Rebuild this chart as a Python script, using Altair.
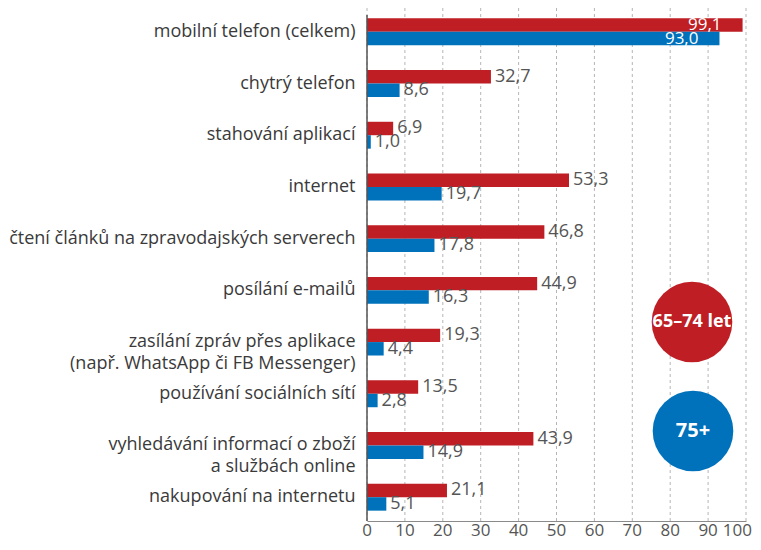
import altair as alt
import pandas as pd

categories = [
    "mobilní telefon (celkem)",
    "chytrý telefon",
    "stahování aplikací",
    "internet",
    "čtení článků na zpravodajských serverech",
    "posílání e-mailů",
    "zasílání zpráv přes aplikace\n(např. WhatsApp či FB Messenger)",
    "používání sociálních sítí",
    "vyhledávání informací o zboží\na službách online",
    "nakupování na internetu",
]
groups = ["65–74 let", "75+"]
values_6574 = [99.1, 32.7, 6.9, 53.3, 46.8, 44.9, 19.3, 13.5, 43.9, 21.1]
values_75 = [93.0, 8.6, 1.0, 19.7, 17.8, 16.3, 4.4, 2.8, 14.9, 5.1]
colors = ["#be1e24", "#0071bb"]
x_ticks = list(range(0, 101, 10))

rows = []
for cat, a, b in zip(categories, values_6574, values_75):
    for g, v in zip(groups, (a, b)):
        rows.append({"cat": cat, "group": g, "value": v,
                     "label": f"{v:.1f}".replace(".", ",")})
df = pd.DataFrame(rows)
ticks_df = pd.DataFrame({"value": x_ticks, "tl": [str(t) for t in x_ticks]})

W, H = 379, 513
FONT = "Open Sans"

y_enc = alt.Y("cat:N", sort=categories,
              scale=alt.Scale(paddingInner=0.48, paddingOuter=0.2),
              axis=alt.Axis(title=None, domain=False, ticks=False,
                            labelFontSize=18, labelColor="#3a3a3a",
                            labelFont=FONT, labelPadding=12,
                            labelLimit=420, labelLineHeight=22,
                            labelExpr="split(datum.label, '\\n')"))
x_enc = alt.X("value:Q", scale=alt.Scale(domain=[0, 100], nice=False),
              axis=alt.Axis(title=None, ticks=False, labels=False,
                            grid=False, domainColor="#8a8a8a",
                            domainWidth=1.2))
yoff = alt.YOffset("group:N", scale=alt.Scale(domain=groups, paddingInner=0))
col = alt.Color("group:N", scale=alt.Scale(domain=groups, range=colors),
                legend=None)

grid = alt.Chart(ticks_df).mark_rule(
    color="#b5b5b5", strokeDash=[3, 3], strokeWidth=1).encode(x=x_enc)
tick_labels = alt.Chart(ticks_df).transform_filter(
    "datum.value < 100").mark_text(
    baseline="middle", fontSize=17, font=FONT, color="#555555").encode(
    x=x_enc, y=alt.value(H + 10), text="tl:N")
tick_last = alt.Chart(ticks_df).transform_filter(
    "datum.value >= 100").mark_text(
    baseline="middle", align="right", dx=6, fontSize=17, font=FONT,
    color="#555555").encode(x=x_enc, y=alt.value(H + 10), text="tl:N")

base = alt.Chart(df)
bars = base.mark_bar().encode(x=x_enc, y=y_enc, yOffset=yoff, color=col)

outside = base.transform_filter("datum.value < 90").mark_text(
    align="left", baseline="middle", dx=4, fontSize=18, font=FONT,
    color="#555555").encode(x=x_enc, y=y_enc, yOffset=yoff,
                            text="label:N")
inside = base.transform_filter("datum.value >= 90").mark_text(
    align="right", baseline="middle", dx=-21, fontSize=17, font=FONT,
    color="white").encode(x=x_enc, y=y_enc, yOffset=yoff,
                          text="label:N")

axis_line = alt.Chart(pd.DataFrame({"a": [0]})).mark_rule(
    color="#555555", strokeWidth=1.5).encode(
    x=alt.value(0), y=alt.value(7), y2=alt.value(H))

legend_y = [314, 423]
legend_x = [325, 326]
legend_sizes = [18, 20]
legend_layers = []
for g, c, ly, lx, fs in zip(groups, colors, legend_y, legend_x, legend_sizes):
    ldf = pd.DataFrame({"label": [g]})
    legend_layers.append(alt.Chart(ldf).mark_circle(
        size=6500, color=c, opacity=1).encode(x=alt.value(lx), y=alt.value(ly)))
    legend_layers.append(alt.Chart(ldf).mark_text(
        color="white", fontSize=fs, fontWeight="bold", font=FONT,
        baseline="middle").encode(x=alt.value(lx), y=alt.value(ly),
                                  text="label:N"))

chart = alt.layer(grid, bars, outside, inside, axis_line, tick_labels,
                  tick_last, *legend_layers).properties(
    width=W, height=H,
    autosize=alt.AutoSizeParams(type="none"),
    padding={"left": 359, "top": 0, "right": 6, "bottom": 21},
).configure_view(stroke=None)

chart.save("out.html", embed_options={"renderer": "svg", "actions": False})
